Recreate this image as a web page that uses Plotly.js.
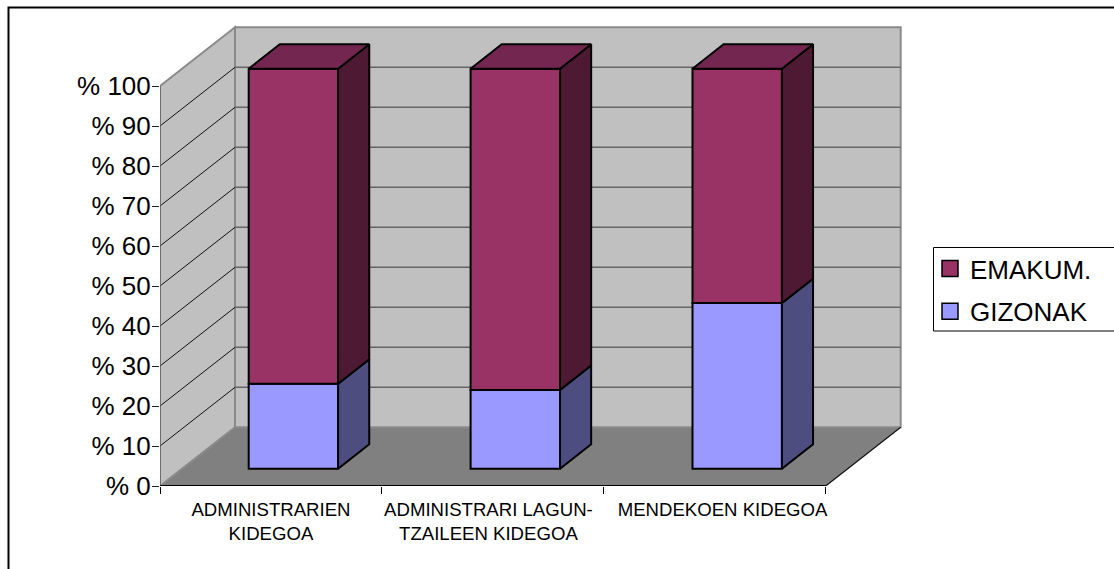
<!DOCTYPE html>
<html><head><meta charset="utf-8">
<script src="https://cdn.plot.ly/plotly-3.0.1.min.js"></script>
<style>html,body{margin:0;padding:0;background:#fff;overflow:hidden}</style>
</head><body><div id="chart" style="width:1114px;height:569px"></div>
<script>
const categories = ["ADMINISTRARIEN<br>KIDEGOA", "ADMINISTRARI LAGUN-<br>TZAILEEN KIDEGOA", "MENDEKOEN KIDEGOA"];
const gizonak = [21.25, 19.7, 41.4];
const emakum = [78.75, 80.3, 58.6];
const labelPositions = [0.5, 1.48, 2.535];
const yTicks = [0,10,20,30,40,50,60,70,80,90,100];
const yTickText = yTicks.map(v => "% " + v);

const FONT = "Liberation Sans, Arial, sans-serif";
const W = 1114, H = 569;
const L = 160, B = 486, PXCAT = 221.9, PXPCT = 4.0, PR = 905, PT = 20;
const DX = 75 / PXCAT, DY = 58.7 / PXPCT;     // depth in axis units
const xMax = (PR - L) / PXCAT, yMax = (B - PT) / PXPCT;
const D0 = 0.295, D1 = 0.71, GAP = 0.3, BW = 0.403;
const P = (c, v, d) => [c + d * DX, v + d * DY];
const poly = pts => "M" + pts.map(p => p[0] + "," + p[1]).join("L") + "Z";
const seg = (a, b) => "M" + a[0] + "," + a[1] + "L" + b[0] + "," + b[1];
const px = x => (x - L) / (PR - L);
const py = y => (H - 83 - y) / (B - PT);

const shapes = [];
const add = (path, fill, lc, lw) => shapes.push({type:"path", xref:"x", yref:"y", layer:"below", path,
  fillcolor: fill || "rgba(0,0,0,0)", line:{color:lc, width:lw}});
// walls and floor
add(poly([P(0,0,0),P(3,0,0),P(3,0,1),P(0,0,1)]), "#808080", "#808080", 0.5);
add(poly([P(0,0,1),P(3,0,1),P(3,100,1),P(0,100,1)]), "#C0C0C0", "#8a8a8a", 2);
add(poly([P(0,0,0),P(0,0,1),P(0,100,1),P(0,100,0)]), "#C0C0C0", "#8a8a8a", 2);
// grid
yTicks.slice(1,-1).forEach(v => {
  add(seg(P(0,v,0),P(0,v,1)), null, "#111", 1);
  add(seg(P(0,v,1),P(3,v,1)), null, "#666", 1.6);
});
// axis edges
add(seg(P(0,0,0),P(0,100,0)), null, "#666", 1.6);
add(seg(P(3,0,0),P(3,0,1)), null, "#111", 1.2);
add(seg(P(0,0,0),P(3,0,0)), null, "#000", 2);

// frame and legend box, open where the picture is cut
shapes.push({type:"path", xref:"paper", yref:"paper", layer:"above", line:{color:"#000", width:2},
  path:`M${px(8.5)},${py(575)}L${px(8.5)},${py(7.5)}L${px(1120)},${py(7.5)}`});
shapes.push({type:"path", xref:"paper", yref:"paper", layer:"above", line:{color:"#000", width:1},
  path:`M${px(1120)},${py(247.5)}L${px(933.5)},${py(247.5)}L${px(933.5)},${py(331)}L${px(1120)},${py(331)}`});

function sideFaces(lows, highs) {
  const xs = [], ys = [];
  lows.forEach((lo, i) => {
    const hi = highs[i], c = i + GAP + BW;
    [P(c,lo,D0),P(c,lo,D1),P(c,hi,D1),P(c,hi,D0),P(c,lo,D0)].forEach(p => { xs.push(p[0]); ys.push(p[1]); });
    xs.push(null); ys.push(null);
  });
  return {x:xs, y:ys};
}
function topFaces(highs) {
  const xs = [], ys = [];
  highs.forEach((hi, i) => {
    const c = i + GAP;
    [P(c,hi,D0),P(c+BW,hi,D0),P(c+BW,hi,D1),P(c,hi,D1),P(c,hi,D0)].forEach(p => { xs.push(p[0]); ys.push(p[1]); });
    xs.push(null); ys.push(null);
  });
  return {x:xs, y:ys};
}
const totals = gizonak.map((g, i) => g + emakum[i]);
const zeros = gizonak.map(() => 0);
const barX = categories.map((_, i) => i + GAP + BW / 2 + D0 * DX);
const baseOff = D0 * DY;
const LINE = {color:"#000", width:2};
const face = (d, fill) => ({type:"scatter", mode:"lines", x:d.x, y:d.y, fill:"toself", fillcolor:fill, line:LINE, showlegend:false, hoverinfo:"skip"});
const bar = (vals, base, color, name) => ({type:"bar", name, x:barX, y:vals, base, width:BW, showlegend:false,
  marker:{color, line:{color:"#000", width:2}}, hoverinfo:"skip"});
const key = (name, color, g) => ({type:"scatter", mode:"markers", name, legendgroup:g, x:[null], y:[null],
  marker:{symbol:"square", size:16, color, line:{color:"#000", width:1.5}}});

const data = [
  bar(gizonak, gizonak.map(() => baseOff), "#9999FF", "GIZONAK"),
  bar(emakum, gizonak.map(g => g + baseOff), "#993366", "EMAKUM."),
  face(sideFaces(zeros, gizonak), "#4D4D80"),
  face(sideFaces(gizonak, totals), "#4D1933"),
  face(topFaces(totals), "#732650"),
  key("EMAKUM.", "#993366", "a"),
  key("GIZONAK", "#9999FF", "b")
];

const layout = {
  width:W, height:H, paper_bgcolor:"#fff", plot_bgcolor:"rgba(0,0,0,0)",
  margin:{l:L, r:W-PR, t:PT, b:H-B, autoexpand:false, pad:0},
  font:{family:FONT, color:"#000"},
  barmode:"overlay", shapes, hovermode:false,
  xaxis:{range:[0,xMax], showgrid:false, zeroline:false, showline:false, fixedrange:true,
    tickmode:"array", tickvals:labelPositions, ticktext:categories, ticks:"", ticklabelstandoff:10,
    tickangle:0, tickfont:{size:18.6, family:FONT, color:"#000"},
    minor:{tickmode:"array", tickvals:[0,1,2,3], ticks:"outside", ticklen:7, tickwidth:1, tickcolor:"#000", showgrid:false}},
  yaxis:{range:[0,yMax], showgrid:false, zeroline:false, showline:false, fixedrange:true,
    tickmode:"array", tickvals:yTicks, ticktext:yTickText, ticks:"outside", ticklen:7, tickwidth:1, tickcolor:"#222",
    ticklabelstandoff:-4, tickfont:{size:26, family:FONT, color:"#000"}},
  legend:{x:px(930), xanchor:"left", y:py(245), yanchor:"top", bgcolor:"rgba(0,0,0,0)", borderwidth:0,
    traceorder:"grouped", tracegroupgap:6, itemclick:false, itemdoubleclick:false,
    font:{size:26, family:FONT, color:"#000"}},
  showlegend:true
};
Plotly.newPlot("chart", data, layout, {displayModeBar:false, staticPlot:true});
</script></body></html>
